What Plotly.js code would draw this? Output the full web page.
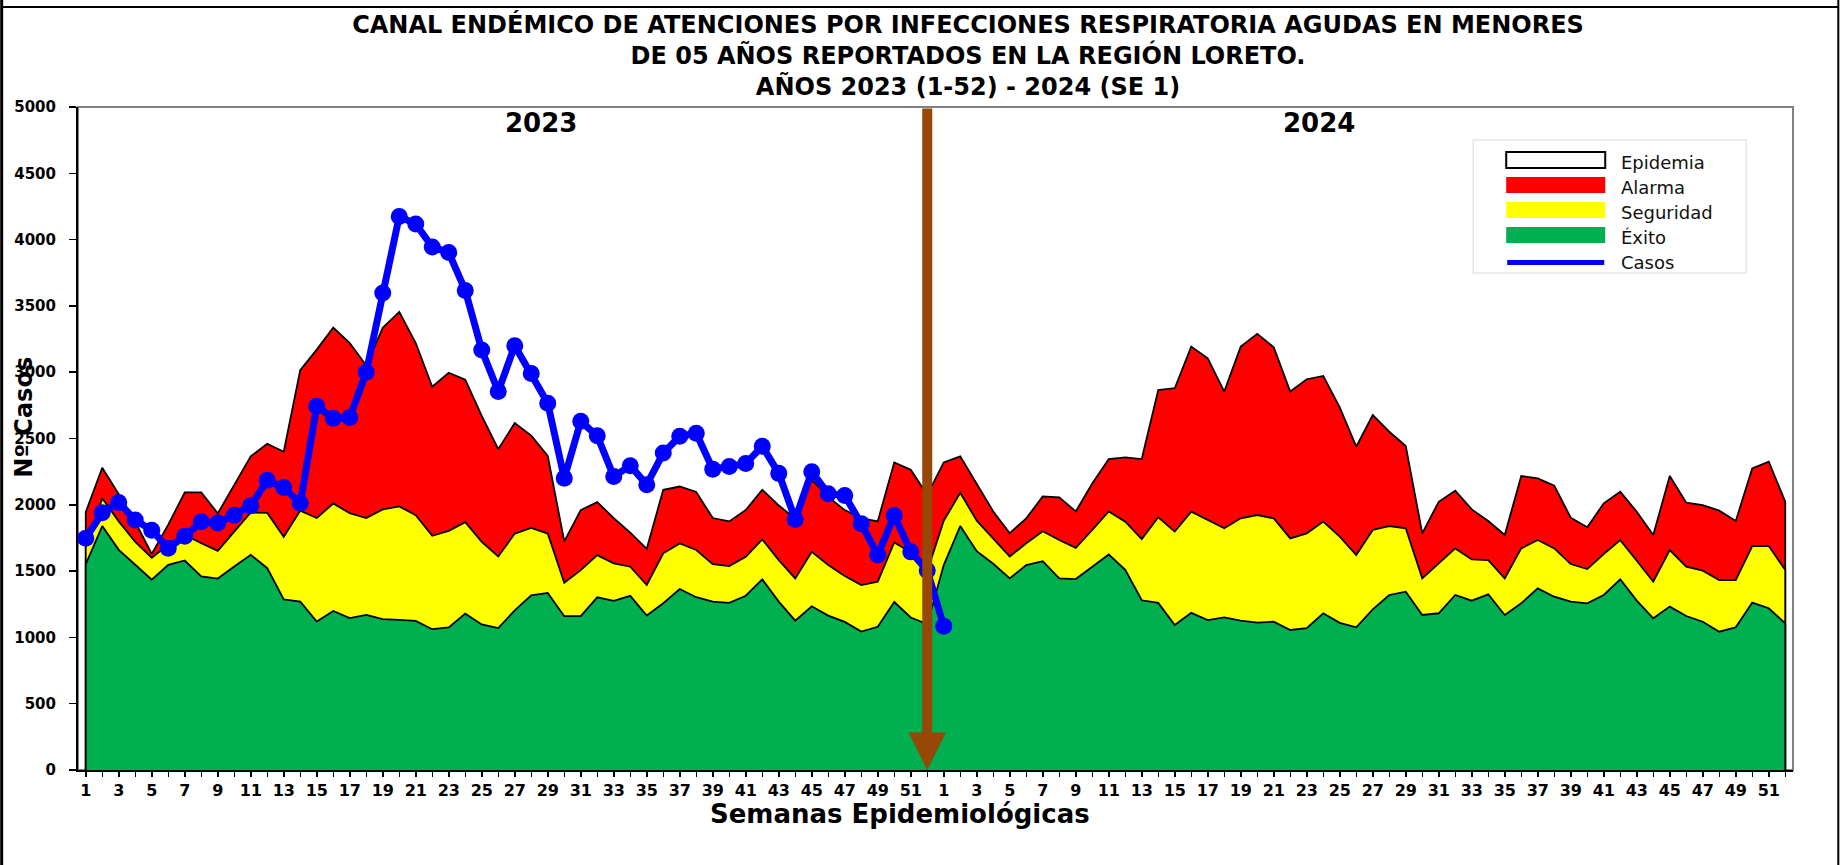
<!DOCTYPE html>
<html>
<head>
<meta charset="utf-8">
<script src="https://cdn.plot.ly/plotly-3.0.1.min.js"></script>
<style>
  html, body { margin: 0; padding: 0; background: #ffffff; }
  #chart { width: 1843px; height: 865px; }
</style>
</head>
<body>
<div id="chart"></div>
<script>
// ---------- DATA ----------
const semanas = [1,2,3,4,5,6,7,8,9,10,11,12,13,14,15,16,17,18,19,20,21,22,23,24,25,26,
                 27,28,29,30,31,32,33,34,35,36,37,38,39,40,41,42,43,44,45,46,47,48,49,50,51,52];

const alarma2023 = [1945,2279,2080,1870,1630,1850,2093,2093,1935,2150,2366,2460,2400,3016,3170,3336,
                    3220,3050,3335,3455,3220,2890,2996,2943,2670,2420,2616,2522,2368,1724,1960,2020,
                    1900,1790,1668,2113,2138,2097,1900,1875,1960,2113,1995,1895,2190,2060,1960,1900,
                    1875,2320,2265,2075];
const seguridad2023 = [1680,2050,1875,1720,1600,1700,1775,1710,1653,1798,1942,1939,1759,1956,1900,2010,
                       1936,1900,1965,1988,1921,1766,1803,1869,1720,1610,1783,1826,1783,1412,1507,1620,
                       1558,1533,1395,1634,1709,1659,1553,1538,1608,1739,1583,1445,1646,1546,1463,1395,
                       1420,1716,1642,1500];
const exito2023 = [1553,1840,1660,1548,1435,1547,1580,1460,1444,1535,1623,1522,1286,1270,1120,1199,
                   1145,1170,1138,1132,1125,1062,1076,1179,1098,1070,1204,1317,1335,1160,1160,1302,
                   1275,1313,1165,1258,1365,1303,1270,1261,1314,1437,1270,1126,1235,1164,1117,1044,
                   1080,1267,1150,1100];

const alarma2024 = [2320,2365,2160,1950,1786,1898,2063,2056,1950,2160,2345,2357,2345,2866,2879,3193,
                    3105,2854,3193,3289,3188,2854,2947,2972,2735,2438,2677,2551,2443,1785,2023,2106,
                    1965,1878,1772,2217,2199,2144,1903,1830,2011,2099,1948,1772,2217,2016,1998,1956,
                    1878,2275,2325,2023];
const seguridad2024 = [1880,2090,1880,1745,1610,1710,1800,1735,1675,1810,1950,1873,1742,1906,1798,1948,
                       1886,1823,1898,1923,1898,1747,1785,1873,1760,1621,1810,1840,1823,1445,1558,1671,
                       1588,1583,1445,1671,1734,1671,1553,1515,1629,1734,1578,1420,1659,1533,1503,1432,
                       1432,1689,1689,1508];
const exito2024 = [1545,1840,1650,1555,1445,1546,1575,1445,1440,1533,1625,1510,1280,1260,1094,1185,
                   1131,1151,1126,1111,1118,1056,1069,1182,1110,1076,1212,1320,1345,1169,1182,1320,
                   1277,1325,1169,1257,1370,1307,1269,1257,1320,1438,1277,1144,1232,1161,1118,1043,
                   1076,1262,1220,1106];

const casos2023 = [1747,1940,2018,1885,1808,1673,1762,1872,1862,1922,1993,2185,2130,2011,2743,2652,
                   2658,3000,3597,4175,4118,3945,3902,3617,3168,2855,3200,2990,2765,2201,2630,2520,
                   2213,2295,2152,2390,2517,2540,2269,2289,2311,2442,2237,1890,2250,2083,2070,1858,
                   1621,1920,1645,1505];
const casos2024 = [1085];

const ticksY = [0,500,1000,1500,2000,2500,3000,3500,4000,4500,5000];
const anios = ['2023', '2024'];
const semanaAlerta = 52; // SE 52 - 2023 (flecha)

// ---------- BUILD ----------
const alarma = alarma2023.concat(alarma2024);
const seguridad = seguridad2023.concat(seguridad2024);
const exito = exito2023.concat(exito2024);
const casos = casos2023.concat(casos2024);

const ejeX = alarma.map((v, i) => i);
const tickText = semanas.map(w => (w % 2 === 1 ? String(w) : ''))
                  .concat(semanas.map(w => (w % 2 === 1 ? String(w) : '')));
const ultimo = ejeX[ejeX.length - 1];

const FONT = 'DejaVu Sans, Arial, sans-serif';

function banda(nombre, valores, color) {
  return {
    type: 'scatter', mode: 'lines', name: nombre,
    x: [0].concat(ejeX, [ultimo]),
    y: [0].concat(valores, [0]),
    fill: 'toself', fillcolor: color,
    line: { color: '#000000', width: 1.8 },
    showlegend: false, hoverinfo: 'skip'
  };
}

const traces = [
  banda('Alarma', alarma, '#FF0000'),
  banda('Seguridad', seguridad, '#FFFF00'),
  banda('Éxito', exito, '#00B050'),
  {
    type: 'scatter', mode: 'lines+markers', name: 'Casos',
    x: ejeX.slice(0, casos.length), y: casos,
    line: { color: '#0000FF', width: 7 },
    marker: { color: '#0000FF', size: 17 },
    showlegend: false
  }
];

// paper helpers (style positions only)
const L = 78.3, R = 1792.7, T = 107, B = 770;
const px = v => (v - L) / (R - L);
const py = v => (B - v) / (B - T);

const shapes = [
  { type: 'rect', xref: 'paper', yref: 'paper', x0: 0, x1: 1, y0: 0, y1: 1,
    line: { color: '#808080', width: 2 }, layer: 'below' },
  { type: 'line', xref: 'paper', yref: 'paper', x0: px(2), x1: px(2), y0: py(0), y1: py(865),
    line: { color: '#000', width: 3 } },
  { type: 'line', xref: 'paper', yref: 'paper', x0: px(2), x1: px(1838), y0: py(7), y1: py(7),
    line: { color: '#000', width: 2 } },
  { type: 'line', xref: 'paper', yref: 'paper', x0: px(1838), x1: px(1838), y0: py(0), y1: py(865),
    line: { color: '#000', width: 2 } },
  { type: 'rect', xref: 'paper', yref: 'paper', x0: px(1473), x1: px(1746), y0: py(273), y1: py(140),
    line: { color: '#e3e7ec', width: 1.5 }, fillcolor: '#ffffff' },
  { type: 'rect', xref: 'paper', yref: 'paper', x0: px(1506), x1: px(1605), y0: py(168), y1: py(152),
    line: { color: '#000', width: 2 }, fillcolor: '#ffffff' },
  { type: 'rect', xref: 'paper', yref: 'paper', x0: px(1506), x1: px(1605), y0: py(193), y1: py(177),
    line: { width: 0 }, fillcolor: '#FF0000' },
  { type: 'rect', xref: 'paper', yref: 'paper', x0: px(1506), x1: px(1605), y0: py(218), y1: py(202),
    line: { width: 0 }, fillcolor: '#FFFF00' },
  { type: 'rect', xref: 'paper', yref: 'paper', x0: px(1506), x1: px(1605), y0: py(243), y1: py(227),
    line: { width: 0 }, fillcolor: '#00B050' },
  { type: 'line', xref: 'paper', yref: 'paper', x0: px(1507), x1: px(1604), y0: py(262.5), y1: py(262.5),
    line: { color: '#0000FF', width: 5 } }
];

const legendItems = ['Epidemia', 'Alarma', 'Seguridad', 'Éxito', 'Casos'];
const legendY = [162.5, 187.5, 212.5, 237.5, 262.5];

const annotations = [
  { x: semanaAlerta - 1, y: 0, xref: 'x', yref: 'y',
    ax: semanaAlerta - 1, ay: 5000, axref: 'x', ayref: 'y',
    showarrow: true, arrowhead: 2, arrowsize: 0.75, arrowwidth: 10,
    arrowcolor: '#974806', text: '', standoff: 0, font: { size: 1 } },
  { x: px(541), y: py(123), xref: 'paper', yref: 'paper', text: '<b>' + anios[0] + '</b>',
    showarrow: false, xanchor: 'center', yanchor: 'middle',
    font: { family: FONT, size: 26, color: '#000' } },
  { x: px(1319), y: py(123), xref: 'paper', yref: 'paper', text: '<b>' + anios[1] + '</b>',
    showarrow: false, xanchor: 'center', yanchor: 'middle',
    font: { family: FONT, size: 26, color: '#000' } },
  { x: px(24), y: py(417), xref: 'paper', yref: 'paper', text: '<b>Nº Casos</b>',
    textangle: -90, showarrow: false, xanchor: 'center', yanchor: 'middle',
    font: { family: FONT, size: 24, color: '#000' } },
  { x: px(900), y: py(814), xref: 'paper', yref: 'paper', text: '<b>Semanas Epidemiológicas</b>',
    showarrow: false, xanchor: 'center', yanchor: 'middle',
    font: { family: FONT, size: 26, color: '#000' } }
];
legendItems.forEach((t, i) => annotations.push({
  x: px(1619), y: py(legendY[i]), xref: 'paper', yref: 'paper', text: t,
  showarrow: false, xanchor: 'left', yanchor: 'middle',
  font: { family: FONT, size: 18, color: '#111' }
}));

const layout = {
  width: 1843, height: 865,
  margin: { l: 78, r: 50, t: 107, b: 95, pad: 0 },
  paper_bgcolor: '#ffffff', plot_bgcolor: '#ffffff',
  showlegend: false,
  title: {
    text: '<b>CANAL ENDÉMICO DE ATENCIONES POR INFECCIONES RESPIRATORIA AGUDAS EN MENORES<br>DE 05 AÑOS REPORTADOS EN LA REGIÓN LORETO.<br>AÑOS 2023 (1-52) - 2024 (SE 1)</b>',
    x: 968 / 1843, xref: 'container', xanchor: 'center',
    y: 1 - 33 / 865, yref: 'container', yanchor: 'top',
    font: { family: FONT, size: 24, color: '#000' }
  },
  xaxis: {
    range: [-0.47, ultimo + 0.47],
    tickmode: 'array', tickvals: ejeX, ticktext: tickText, tickangle: 0,
    ticks: 'outside', ticklen: 5, tickwidth: 1.5, tickcolor: '#000',
    showline: true, linecolor: '#000', linewidth: 2,
    showgrid: false, zeroline: false,
    tickfont: { family: FONT, size: 16, color: '#000', weight: 'bold' }
  },
  yaxis: {
    range: [0, 5000],
    tickmode: 'array', tickvals: ticksY, ticktext: ticksY.map(String),
    ticks: 'outside', ticklen: 7, tickwidth: 1.5, tickcolor: '#000',
    ticklabelstandoff: 10,
    showline: true, linecolor: '#000', linewidth: 2,
    showgrid: false, zeroline: false,
    tickfont: { family: FONT, size: 15, color: '#000', weight: 'bold' }
  },
  shapes: shapes,
  annotations: annotations
};

Plotly.newPlot('chart', traces, layout, { displayModeBar: false, staticPlot: true });
</script>
</body>
</html>
